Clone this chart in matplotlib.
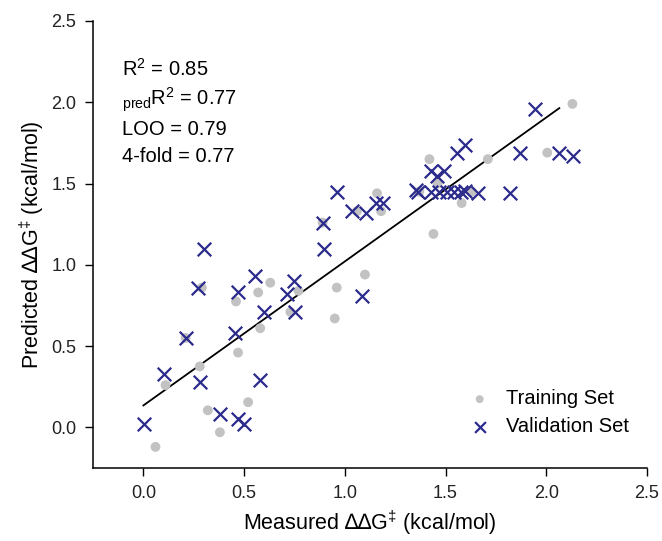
import numpy as np
import matplotlib
matplotlib.use("Agg")
import matplotlib.pyplot as plt

plt.rcParams['font.family'] = ['Liberation Sans', 'DejaVu Sans']
plt.rcParams['mathtext.fontset'] = 'custom'
plt.rcParams['mathtext.rm'] = 'Liberation Sans'
plt.rcParams['mathtext.it'] = 'Liberation Sans:italic'

# training set (measured, predicted)
train_x = [0.06, 0.11, 0.21, 0.28, 0.29, 0.32, 0.38, 0.46, 0.47, 0.52,
           0.57, 0.63, 0.58, 0.73, 0.77, 0.96, 0.95, 1.10, 1.16, 1.18,
           1.06, 0.89, 1.44, 1.42, 1.71, 2.005, 2.13, 1.58, 1.63, 1.46, 1.37]
train_y = [-0.12, 0.26, 0.55, 0.375, 0.86, 0.105, -0.03, 0.775, 0.46, 0.155,
           0.83, 0.89, 0.61, 0.71, 0.84, 0.86, 0.67, 0.94, 1.44, 1.33,
           1.33, 1.26, 1.19, 1.65, 1.65, 1.69, 1.99, 1.38, 1.45, 1.50, 1.45]

# validation set (measured, predicted)
val_x = [0.005, 0.10, 0.21, 0.28, 0.27, 0.30, 0.38, 0.47, 0.50, 0.455,
         0.47, 0.58, 0.555, 0.60, 0.715, 0.75, 0.755, 0.89, 0.895, 0.96,
         1.035, 1.105, 1.155, 1.19, 1.085, 1.355, 1.365, 1.43, 1.457, 1.493,
         1.556, 1.597, 1.43, 1.47, 1.505, 1.54, 1.575, 1.595, 1.66, 1.82,
         1.944, 1.87, 2.063, 2.135]
val_y = [0.02, 0.33, 0.55, 0.28, 0.86, 1.10, 0.08, 0.05, 0.02, 0.58,
         0.83, 0.29, 0.93, 0.71, 0.82, 0.90, 0.71, 1.26, 1.10, 1.45,
         1.33, 1.32, 1.38, 1.38, 0.81, 1.46, 1.45, 1.575, 1.545, 1.575,
         1.69, 1.735, 1.45, 1.45, 1.45, 1.45, 1.45, 1.455, 1.44, 1.44,
         1.96, 1.69, 1.69, 1.67]

# regression line end points
fit_x = [0.0, 2.065]
fit_y = [0.135, 1.964]

stats_lines = [r'R$^2$ = 0.85', r'$_{\mathrm{pred}}$R$^2$ = 0.77',
               'LOO = 0.79', '4-fold = 0.77']

ticks = [0.0, 0.5, 1.0, 1.5, 2.0, 2.5]

fig = plt.figure(figsize=(6.62, 5.41), dpi=100)
ax = fig.add_axes([0.1405, 0.1349, 0.8368, 0.8263])

ax.plot(fit_x, fit_y, color='black', lw=1.3, zorder=1)
ax.scatter(train_x, train_y, s=50, color='#c2c2c2', edgecolors='none',
           label='Training Set', zorder=2)
ax.scatter(val_x, val_y, s=95, marker='x', color='#2b2b8c', linewidths=1.6,
           label='Validation Set', zorder=3)

ax.set_xlim(-0.25, 2.5)
ax.set_ylim(-0.25, 2.5)
ax.set_xticks(ticks)
ax.set_yticks(ticks)
ax.set_xticklabels([f'{t:.1f}' for t in ticks])
ax.set_yticklabels([f'{t:.1f}' for t in ticks])
ax.tick_params(direction='out', length=6, width=1, pad=6, labelsize=13,
               labelcolor='#222222')
for side in ['top', 'right']:
    ax.spines[side].set_visible(False)
for side in ['left', 'bottom']:
    ax.spines[side].set_linewidth(1.1)

ax.set_xlabel('Measured \u2206\u2206G$^{\u2021}$ (kcal/mol)', fontsize=15.5, labelpad=5)
ax.set_ylabel('Predicted \u2206\u2206G$^{\u2021}$ (kcal/mol)', fontsize=15.5, labelpad=4)

ys = [0.877, 0.810, 0.745, 0.685]
for txt, yy in zip(stats_lines, ys):
    ax.text(0.052, yy, txt, transform=ax.transAxes, fontsize=14.5,
            va='baseline', ha='left')

leg = ax.legend(loc='lower right', bbox_to_anchor=(1.0, 0.03), frameon=False,
                fontsize=14.5, handletextpad=0.7, labelspacing=0.45,
                handlelength=1.2, markerscale=0.8)

fig.savefig('out.png', dpi=100)
